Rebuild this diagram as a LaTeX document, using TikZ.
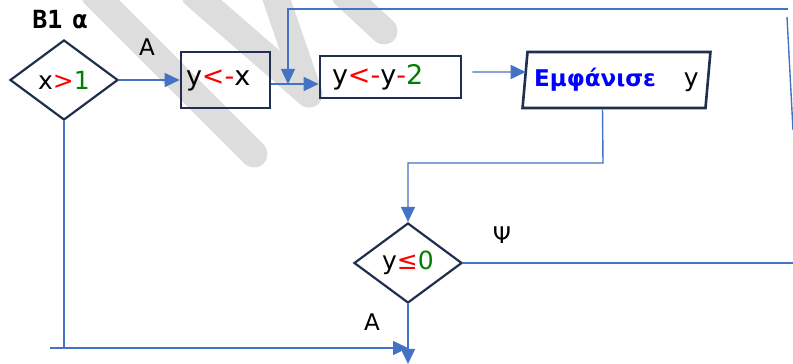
\documentclass[tikz,border=0pt]{standalone}
\usepackage{fontspec}
\setmainfont{DejaVu Sans}
\newfontfamily\monofont{DejaVu Sans Mono}
\usetikzlibrary{arrows.meta,shapes.geometric,calc}
\definecolor{cLine}{HTML}{4472C4}
\definecolor{cBox}{HTML}{1F2F4F}
\definecolor{cRed}{HTML}{FF0000}
\definecolor{cGrn}{HTML}{008000}
\definecolor{cBlu}{HTML}{0000FF}
\definecolor{cMark}{HTML}{DDDDDD}

\begin{document}
\begin{tikzpicture}[x=1pt,y=1pt,
  dec/.style={diamond,draw=cBox,line width=2.2pt,minimum width=108pt,minimum height=80pt,inner sep=0pt,font=\fontsize{25}{29}\selectfont},
  proc/.style={rectangle,draw=cBox,line width=2.6pt,inner ysep=0pt,align=left,font=\fontsize{27}{31}\selectfont},
  io/.style={trapezium,trapezium left angle=79,trapezium right angle=101,trapezium stretches=true,draw=cBox,line width=2.6pt,minimum height=56pt,inner sep=0pt},
  flow/.style={cLine,line width=1.4pt,-{Triangle[length=15pt,width=14pt]}},
  wire/.style={cLine,line width=1.4pt},
  lbl/.style={font=\fontsize{23}{27}\selectfont}]
\useasboundingbox (0,0) rectangle (793,364);
% watermark strokes
\foreach \xa/\ya/\xb/\yb in {95/369/254/210,195/369/309/270,275/369/309/270,345/369/384/333}{
  \draw[cMark,line width=27pt,line cap=round] (\xa,\ya)--(\xb,\yb);}
% title
\node[font=\monofont\bfseries\fontsize{25}{28}\selectfont] (ttl) at (60,344) {B1\hspace{10pt}α};
% first test and assignments
\node[dec] (d1) at (64,284) {x{\color{cRed}>}{\color{cGrn}1}};
\node[lbl] (la1) at (147,317) {A};
\node[proc,minimum height=56pt,inner xsep=5pt,text width=79pt] (b1) at (225.5,284) {y{\color{cRed}<-}x};
\node[proc,minimum height=42pt,inner xsep=12pt,text width=117pt] (b2) at (390.5,287) {y{\color{cRed}<-}y{\color{cRed}-}{\color{cGrn}2}};
\node[io,minimum width=188pt] (p1) at (616.5,284) {{\bfseries\color{cBlu}\fontsize{23}{27}\selectfont Εμφάνισε}\hspace{28pt}{\fontsize{25}{29}\selectfont y}};
% second test
\node[dec] (d2) at (408,101) {y{\color{cRed}≤}{\color{cGrn}0}};
\node[lbl] (lpsi) at (502,129) {Ψ};
\node[lbl] (la2) at (372,42) {A};
% helper points
\coordinate (jn) at (288,280);
\coordinate (tr) at (788,355);
\coordinate (rs1) at (787,347);
\coordinate (rs2) at (793,234);
\coordinate (k1) at (603,201);
\coordinate (bs) at (50,16);
\coordinate (bt) at (408,0);
% connectors
\draw[flow] (d1.east) -- (b1.west);
\draw[flow] (b1.east |- jn) -- (jn -| b2.west);
\draw[flow] (tr) -- (tr -| jn) -- (jn);
\draw[wire] (rs1) -- (rs2);
\draw[flow] ($(b2.east)+(10,5)$) -- ($(p1.west)+(2,8)$);
\draw[flow] ($(p1.south)+(-14,0)$) -- (k1) -| (d2.north);
\draw[wire] (d2.east) -- (d2.east -| rs2);
\draw[flow] (d2.south) -- (bt);
\draw[wire] (d1.south) -- (d1.south |- bs);
\draw[flow] (bs) -- (bt |- bs);
\end{tikzpicture}
\end{document}
